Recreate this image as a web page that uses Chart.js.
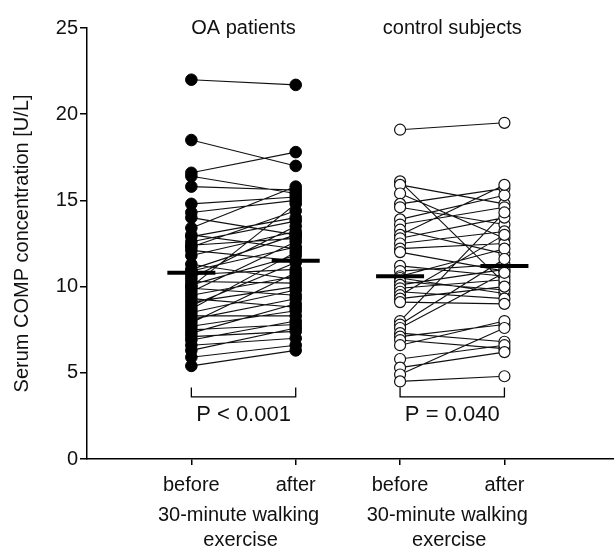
<!DOCTYPE html>
<html>
<head>
<meta charset="utf-8">
<script src="https://cdn.jsdelivr.net/npm/chart.js@4/dist/chart.umd.min.js"></script>
<style>
  html, body { margin: 0; padding: 0; background: #fff; overflow: hidden; }
  #wrap { width: 614px; height: 546px; }
  canvas { display: block; }
</style>
</head>
<body>
<div id="wrap"><canvas id="compChart" width="614" height="546"></canvas></div>
<script>
// x positions of the four columns and their labels
const xPositions = [1, 2, 3, 4];
const xLabels = ['before', 'after', 'before', 'after'];
const groupTitles = ['OA patients', 'control subjects'];
const groupSubtitle = ['30-minute walking', 'exercise'];
const pValues = ['P < 0.001', 'P = 0.040'];
const yTicks = [0, 5, 10, 15, 20, 25];

// serum COMP [U/L], paired per subject
const oaBefore = [22.0, 18.5, 16.6, 16.4, 15.8, 14.8, 14.3, 14.0, 13.4, 13.0, 12.9, 12.6, 12.4, 12.3, 12.1,
  11.8, 11.3, 11.0, 10.9, 10.7, 10.5, 10.3, 10.1, 10.0, 9.9, 9.7, 9.5, 9.3, 9.1, 8.9,
  8.7, 8.5, 8.3, 8.1, 7.9, 7.7, 7.5, 7.3, 7.1, 6.9, 6.6, 6.3, 5.9, 5.4];
const oaAfter = [21.7, 17.0, 17.8, 15.4, 15.6, 15.2, 15.0, 13.0, 15.8, 12.2, 14.0, 13.8, 12.8, 14.4, 11.5,
  13.2, 10.4, 13.0, 12.3, 11.0, 13.5, 10.2, 11.8, 14.8, 9.5, 12.6, 10.6, 8.8, 10.0, 11.4,
  12.0, 9.8, 8.3, 9.3, 10.8, 8.6, 7.8, 9.0, 7.4, 8.0, 7.0, 7.6, 6.6, 6.3];
const ctrlBefore = [19.1, 16.1, 15.9, 15.4, 14.8, 14.6, 13.9, 13.6, 13.3, 13.0, 12.8, 12.5, 12.2, 12.0, 11.2,
  10.9, 10.6, 10.5, 10.3, 10.1, 9.9, 9.7, 9.5, 9.3, 9.1, 8.0, 7.8, 7.6, 7.3, 7.1,
  6.9, 6.6, 5.8, 5.3, 4.9, 4.5];
const ctrlAfter = [19.5, 10.2, 14.8, 12.8, 15.7, 13.6, 15.3, 14.6, 11.9, 15.9, 14.0, 13.2, 12.5, 10.9, 10.6,
  11.3, 12.2, 9.6, 9.8, 11.0, 10.4, 9.3, 13.0, 10.0, 9.0, 14.3, 11.6, 10.8, 6.8, 7.8,
  6.4, 8.0, 6.6, 6.2, 7.6, 4.8];

// medians (thick bars)
const oaMedians = [10.8, 11.5];
const ctrlMedians = [10.6, 11.2];

const FONT = '"Liberation Sans", Arial, sans-serif';

// before/after pairs as one line dataset, broken by null points
function pairs(before, after, xb, xa) {
  const pts = [];
  before.forEach((b, i) => {
    pts.push({ x: xb, y: b }, { x: xa, y: after[i] }, { x: (xb + xa) / 2, y: null });
  });
  return pts;
}

// brackets, p-values, group titles and the shared x sub-label
const annotations = {
  id: 'annotations',
  afterDraw(chart) {
    const { ctx, scales: { x, y } } = chart;
    ctx.save();
    ctx.strokeStyle = '#000';
    ctx.fillStyle = '#111';
    ctx.lineWidth = 1.3;
    ctx.textAlign = 'center';
    ctx.textBaseline = 'middle';
    [0, 1].forEach(g => {
      const x0 = x.getPixelForValue(xPositions[g * 2]);
      const x1 = x.getPixelForValue(xPositions[g * 2 + 1]);
      const mid = (x0 + x1) / 2;
      const yb = y.getPixelForValue(3.6);
      const yt = y.getPixelForValue(4.15);
      ctx.beginPath();
      ctx.moveTo(x0, yt); ctx.lineTo(x0, yb); ctx.lineTo(x1, yb); ctx.lineTo(x1, yt);
      ctx.stroke();
      ctx.font = '22px ' + FONT;
      ctx.fillText(pValues[g], mid, y.getPixelForValue(2.55));
      ctx.font = '20px ' + FONT;
      ctx.fillText(groupTitles[g], mid, y.getPixelForValue(25));
      ctx.fillText(groupSubtitle[0], mid - 5, 515);
      ctx.fillText(groupSubtitle[1], mid - 3, 540);
    });
    ctx.restore();
  }
};

const ctx = document.getElementById('compChart').getContext('2d');
const compChart = new Chart(ctx, {
  type: 'scatter',
  data: {
    datasets: [
      {
        label: 'median',
        data: [
          { x: xPositions[0], y: oaMedians[0] }, { x: xPositions[1], y: oaMedians[1] },
          { x: xPositions[2], y: ctrlMedians[0] }, { x: xPositions[3], y: ctrlMedians[1] }
        ],
        pointStyle: 'line',
        pointRadius: 24,
        pointHoverRadius: 24,
        borderColor: '#000',
        borderWidth: 4,
        showLine: false
      },
      {
        label: 'OA patients',
        data: pairs(oaBefore, oaAfter, xPositions[0], xPositions[1]),
        showLine: true,
        spanGaps: false,
        borderColor: '#111',
        borderWidth: 1.1,
        pointRadius: 5.8,
        pointHoverRadius: 5.8,
        pointBackgroundColor: '#000',
        pointBorderColor: '#000',
        pointBorderWidth: 1
      },
      {
        label: 'control subjects',
        data: pairs(ctrlBefore, ctrlAfter, xPositions[2], xPositions[3]),
        showLine: true,
        spanGaps: false,
        borderColor: '#111',
        borderWidth: 1.1,
        pointRadius: 5.5,
        pointHoverRadius: 5.5,
        pointBackgroundColor: '#fff',
        pointBorderColor: '#111',
        pointBorderWidth: 1.2
      }
    ]
  },
  options: {
    responsive: false,
    animation: false,
    layout: { autoPadding: false, padding: { top: 28, right: 0, left: 0, bottom: 0 } },
    plugins: {
      legend: { display: false },
      tooltip: { enabled: false }
    },
    scales: {
      x: {
        type: 'linear',
        min: 0,
        max: 5.05,
        afterBuildTicks: axis => { axis.ticks = xPositions.map(v => ({ value: v })); },
        afterFit: axis => { axis.height = 87; axis.paddingLeft = 0; axis.paddingRight = 0; },
        border: { color: '#000', width: 1.5 },
        grid: { drawOnChartArea: false, color: '#000', lineWidth: 1.5, tickLength: 6 },
        ticks: {
          color: '#111',
          padding: 8,
          font: { family: FONT, size: 20 },
          callback: (v) => xLabels[xPositions.indexOf(v)] || ''
        }
      },
      y: {
        min: 0,
        max: 25,
        afterBuildTicks: axis => { axis.ticks = yTicks.map(v => ({ value: v })); },
        afterFit: axis => { axis.width = 87; },
        border: { color: '#000', width: 1.5 },
        grid: { drawOnChartArea: false, color: '#000', lineWidth: 1.5, tickLength: 7 },
        ticks: {
          color: '#111',
          padding: 2,
          font: { family: FONT, size: 20 }
        },
        title: {
          display: true,
          text: 'Serum COMP concentration [U/L]',
          color: '#111',
          padding: { top: 10, bottom: 0 },
          font: { family: FONT, size: 20 }
        }
      }
    }
  },
  plugins: [annotations]
});
</script>
</body>
</html>
